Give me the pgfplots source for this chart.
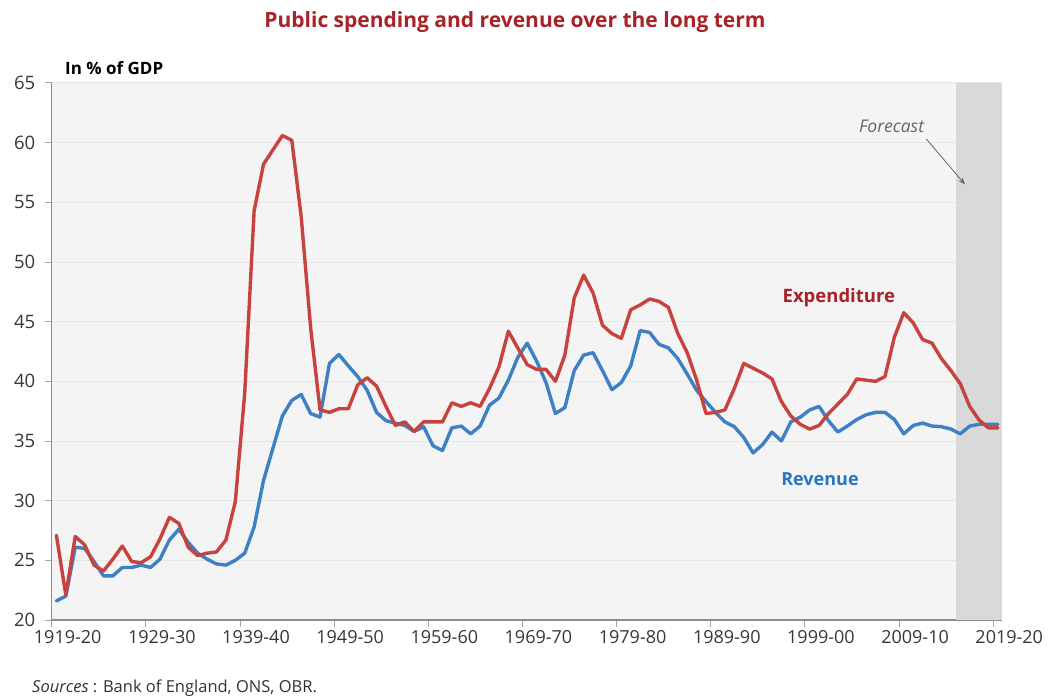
\documentclass[border=0pt]{standalone}
\usepackage{fontspec}
\setmainfont{Open Sans}
\usepackage{pgfplots}
\pgfplotsset{compat=1.18}
\usetikzlibrary{arrows.meta}
\definecolor{expred}{RGB}{200,66,62}
\definecolor{revblue}{RGB}{62,128,198}
\definecolor{titlered}{RGB}{168,34,40}
\definecolor{revlab}{RGB}{38,118,192}
\definecolor{plotbg}{RGB}{244,244,244}
\definecolor{gridc}{RGB}{230,230,230}
\definecolor{fcgray}{RGB}{217,217,217}
\definecolor{ticktext}{RGB}{55,55,55}

\pgfplotstableread{
year val
1919.5 27.1
1920.5 22.1
1921.5 27.0
1922.5 26.3
1923.5 24.6
1924.5 24.1
1925.5 25.1
1926.5 26.2
1927.5 24.9
1928.5 24.8
1929.5 25.3
1930.5 26.8
1931.5 28.6
1932.5 28.1
1933.5 26.1
1934.5 25.4
1935.5 25.6
1936.5 25.7
1937.5 26.7
1938.5 29.9
1939.5 39.0
1940.5 54.3
1941.5 58.2
1942.5 59.4
1943.5 60.6
1944.5 60.2
1945.5 53.8
1946.5 44.5
1947.5 37.6
1948.5 37.4
1949.5 37.7
1950.5 37.7
1951.5 39.7
1952.5 40.3
1953.5 39.6
1954.5 37.9
1955.5 36.3
1956.5 36.6
1957.5 35.8
1958.5 36.6
1959.5 36.6
1960.5 36.6
1961.5 38.2
1962.5 37.9
1963.5 38.2
1964.5 37.9
1965.5 39.4
1966.5 41.2
1967.5 44.2
1968.5 42.8
1969.5 41.4
1970.5 41.0
1971.5 41.0
1972.5 40.0
1973.5 42.2
1974.5 47.0
1975.5 48.9
1976.5 47.4
1977.5 44.7
1978.5 44.0
1979.5 43.6
1980.5 46.0
1981.5 46.4
1982.5 46.9
1983.5 46.7
1984.5 46.2
1985.5 44.0
1986.5 42.4
1987.5 40.1
1988.5 37.3
1989.5 37.4
1990.5 37.6
1991.5 39.4
1992.5 41.5
1993.5 41.1
1994.5 40.7
1995.5 40.2
1996.5 38.3
1997.5 37.1
1998.5 36.4
1999.5 36.0
2000.5 36.3
2001.5 37.3
2002.5 38.1
2003.5 38.9
2004.5 40.2
2005.5 40.1
2006.5 40.0
2007.5 40.4
2008.5 43.7
2009.5 45.75
2010.5 44.9
2011.5 43.5
2012.5 43.2
2013.5 41.9
2014.5 40.9
2015.5 39.8
2016.5 37.9
2017.5 36.75
2018.5 36.1
2019.5 36.1
}\expdata

\pgfplotstableread{
year val
1919.5 21.6
1920.5 22.0
1921.5 26.1
1922.5 26.0
1923.5 24.9
1924.5 23.7
1925.5 23.7
1926.5 24.4
1927.5 24.4
1928.5 24.6
1929.5 24.4
1930.5 25.1
1931.5 26.7
1932.5 27.6
1933.5 26.5
1934.5 25.6
1935.5 25.1
1936.5 24.7
1937.5 24.6
1938.5 25.0
1939.5 25.6
1940.5 27.8
1941.5 31.7
1942.5 34.4
1943.5 37.1
1944.5 38.4
1945.5 38.9
1946.5 37.3
1947.5 37.0
1948.5 41.5
1949.5 42.25
1950.5 41.3
1951.5 40.4
1952.5 39.25
1953.5 37.4
1954.5 36.7
1955.5 36.5
1956.5 36.3
1957.5 35.8
1958.5 36.2
1959.5 34.6
1960.5 34.2
1961.5 36.1
1962.5 36.25
1963.5 35.6
1964.5 36.25
1965.5 38.0
1966.5 38.6
1967.5 40.1
1968.5 42.0
1969.5 43.2
1970.5 41.7
1971.5 39.9
1972.5 37.3
1973.5 37.8
1974.5 40.9
1975.5 42.2
1976.5 42.4
1977.5 40.9
1978.5 39.3
1979.5 39.9
1980.5 41.3
1981.5 44.25
1982.5 44.1
1983.5 43.1
1984.5 42.8
1985.5 41.9
1986.5 40.6
1987.5 39.25
1988.5 38.3
1989.5 37.4
1990.5 36.6
1991.5 36.2
1992.5 35.3
1993.5 34.0
1994.5 34.7
1995.5 35.75
1996.5 35.0
1997.5 36.6
1998.5 37.0
1999.5 37.6
2000.5 37.9
2001.5 36.7
2002.5 35.75
2003.5 36.25
2004.5 36.8
2005.5 37.2
2006.5 37.4
2007.5 37.4
2008.5 36.8
2009.5 35.6
2010.5 36.3
2011.5 36.5
2012.5 36.25
2013.5 36.2
2014.5 36.0
2015.5 35.6
2016.5 36.25
2017.5 36.4
2018.5 36.4
2019.5 36.4
}\revdata

\begin{document}
\begin{tikzpicture}[x=1pt,y=1pt]
\useasboundingbox (0,0) rectangle (1048,697);
\fill[white] (0,0) rectangle (1048,697);
\begin{axis}[
  at={(51.7pt,77pt)}, anchor=south west,
  width=950pt, height=537pt, scale only axis,
  xmin=1919, xmax=2019.9, ymin=20, ymax=65,
  axis background/.style={fill=plotbg},
  axis x line*=bottom, axis y line*=left,
  axis line style={draw=black!45, line width=1.2pt},
  xtick={1919,1929,1939,1949,1959,1969,1979,1989,1999,2009,2019},
  xticklabels={1919-20,1929-30,1939-40,1949-50,1959-60,1969-70,1979-80,1989-90,1999-00,2009-10,2019-20},
  ytick={20,25,30,35,40,45,50,55,60,65},
  tick align=outside, major tick length=7pt,
  tick style={draw=black!35, line width=1pt},
  ymajorgrids, grid style={draw=gridc, line width=1pt},
  xticklabel style={xshift=16pt, font=\fontsize{18}{20}\selectfont, text=ticktext},
  yticklabel style={font=\fontsize{18.5}{20}\selectfont, text=ticktext, xshift=-6pt},
  /pgf/number format/assume math mode=true,
  clip=false,
]
\fill[fcgray] (axis cs:2015,20) rectangle (axis cs:2019.9,65);
\addplot[revblue, line width=3.4pt, line join=round, line cap=round] table[x=year,y=val] {\revdata};
\addplot[expred, line width=3.4pt, line join=round, line cap=round] table[x=year,y=val] {\expdata};
\node[font=\bfseries\fontsize{18.5}{20}\selectfont, text=titlered] at (axis cs:2002.6,47.0) {Expenditure};
\node[font=\bfseries\fontsize{18}{20}\selectfont, text=revlab] at (axis cs:2000.6,31.8) {Revenue};
\node[font=\itshape\fontsize{17.5}{19}\selectfont, text=black!60] at (axis cs:2008.2,61.35) {Forecast};
\draw[-{Stealth[length=7pt,width=5pt]}, draw=black!60, line width=0.8pt] (axis cs:2011.9,60.3) -- (axis cs:2016.0,56.5);
\end{axis}
\node[font=\bfseries\fontsize{21}{24}\selectfont, text=titlered] at (515,675) {Public spending and revenue over the long term};
\node[anchor=west, font=\bfseries\fontsize{17}{19}\selectfont, inner sep=0pt] at (65,629) {In \% of GDP};
\node[anchor=west, font=\fontsize{16.5}{18}\selectfont, text=black!80, inner sep=0pt] at (32,9) {\textit{Sources} : Bank of England, ONS, OBR.};
\end{tikzpicture}
\end{document}
